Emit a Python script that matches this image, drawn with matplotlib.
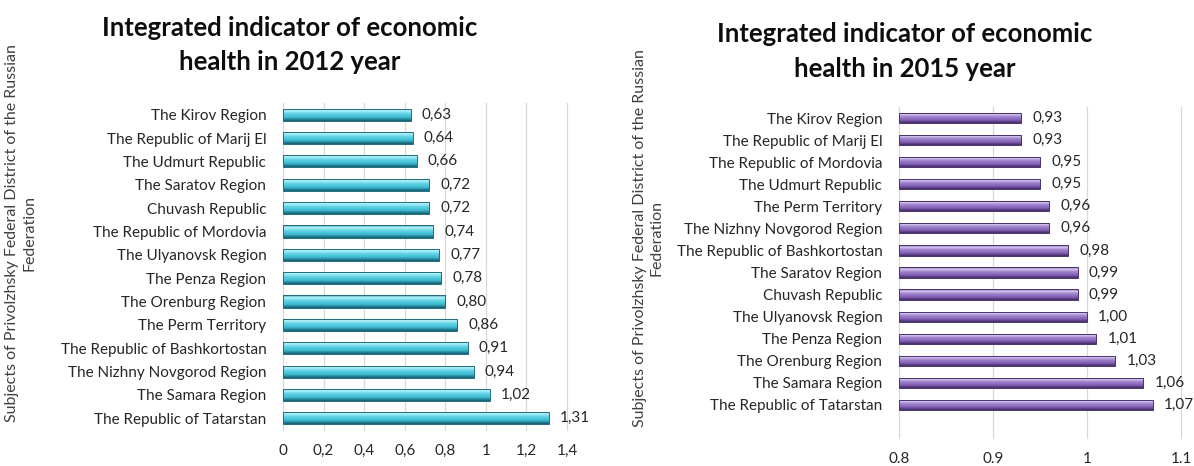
import matplotlib.pyplot as plt
import numpy as np
from matplotlib.colors import LinearSegmentedColormap

plt.rcParams['font.family'] = ['Lato', 'DejaVu Sans']

# данные 2012
regions_2012 = ["The Kirov Region", "The Republic of Marij El", "The Udmurt Republic",
                "The Saratov Region", "Chuvash Republic", "The Republic of Mordovia",
                "The Ulyanovsk Region", "The Penza Region", "The Orenburg Region",
                "The Perm Territory", "The Republic of Bashkortostan",
                "The Nizhny Novgorod Region", "The Samara Region", "The Republic of Tatarstan"]
values_2012 = [0.63, 0.64, 0.66, 0.72, 0.72, 0.74, 0.77, 0.78, 0.80, 0.86, 0.91, 0.94, 1.02, 1.31]
ticks_2012 = [0, 0.2, 0.4, 0.6, 0.8, 1.0, 1.2, 1.4]
ticklabels_2012 = ["0", "0,2", "0,4", "0,6", "0,8", "1", "1,2", "1,4"]

# данные 2015
regions_2015 = ["The Kirov Region", "The Republic of Marij El", "The Republic of Mordovia",
                "The Udmurt Republic", "The Perm Territory", "The Nizhny Novgorod Region",
                "The Republic of Bashkortostan", "The Saratov Region", "Chuvash Republic",
                "The Ulyanovsk Region", "The Penza Region", "The Orenburg Region",
                "The Samara Region", "The Republic of Tatarstan"]
values_2015 = [0.93, 0.93, 0.95, 0.95, 0.96, 0.96, 0.98, 0.99, 0.99, 1.00, 1.01, 1.03, 1.06, 1.07]
ticks_2015 = [0.8, 0.9, 1.0, 1.1]
ticklabels_2015 = ["0.8", "0.9", "1", "1.1"]

ylabel = "Subjects of Privolzhsky Federal District of the Russian\nFederation"

cyan = LinearSegmentedColormap.from_list("cyan", [
    (0.0, "#2b8da3"), (0.18, "#b8f4fb"), (0.42, "#62d4e7"),
    (0.72, "#3dbad0"), (0.92, "#1f7488"), (1.0, "#175e6e")])
purple = LinearSegmentedColormap.from_list("purple", [
    (0.0, "#6a4a96"), (0.18, "#d8c9f0"), (0.42, "#a084cd"),
    (0.72, "#8461b7"), (0.92, "#553a7c"), (1.0, "#412d5f")])

grad = np.linspace(0, 1, 64).reshape(-1, 1)

fig = plt.figure(figsize=(11.94, 4.66), dpi=100)

FS = 11


def draw(ax, names, vals, left, ticks, labels, cmap, edge, h, ylim):
    y = np.arange(len(names))
    bars = ax.barh(y, np.array(vals) - left, left=left, height=h,
                   color="none", edgecolor=edge, linewidth=0.7, zorder=3)
    for b in bars:
        x0, yb, w, hh = b.get_x(), b.get_y(), b.get_width(), b.get_height()
        im = ax.imshow(grad, cmap=cmap, aspect="auto", origin="upper",
                       extent=(x0, x0 + w, yb + hh, yb), zorder=2)
        im.set_clip_path(b)
    for yi, v in zip(y, vals):
        ax.annotate(f"{v:.2f}".replace(".", ","), (v, yi), xytext=(8, 0),
                    textcoords="offset points", va="center", ha="left",
                    fontsize=FS, color="#262626")
    ax.set_xlim(left, ticks[-1])
    ax.set_ylim(*ylim)
    ax.set_yticks(y)
    ax.set_yticklabels(names, fontsize=FS, color="#262626")
    ax.set_xticks(ticks)
    ax.set_xticklabels(labels, fontsize=FS, color="#262626")
    ax.tick_params(axis="both", length=0)
    ax.tick_params(axis="y", pad=12)
    ax.tick_params(axis="x", pad=10)
    for t in ticks:
        ax.axvline(t, color="#d9d9d9", linewidth=0.9, zorder=1, clip_on=False)
    for s in ax.spines.values():
        s.set_visible(False)


ax1 = fig.add_axes([0.2370, 0.0773, 0.2379, 0.7017])
draw(ax1, regions_2012, values_2012, 0, ticks_2012, ticklabels_2012,
     cyan, "#1f6f80", 0.52, (13.5, -0.5))

ax2 = fig.add_axes([0.7529, 0.0601, 0.2362, 0.7103])
draw(ax2, regions_2015, values_2015, 0.8, ticks_2015, ticklabels_2015,
     purple, "#4a3370", 0.46, (14.5, -0.5))

# заголовки
TS = 18.5
fig.text(0.243, 0.940, "Integrated indicator of economic", ha="center", va="center",
         fontsize=TS, fontweight="bold", color="#0d0d0d")
fig.text(0.243, 0.866, "health in 2012 year", ha="center", va="center",
         fontsize=TS, fontweight="bold", color="#0d0d0d")
fig.text(0.758, 0.928, "Integrated indicator of economic", ha="center", va="center",
         fontsize=TS, fontweight="bold", color="#0d0d0d")
fig.text(0.758, 0.852, "health in 2015 year", ha="center", va="center",
         fontsize=TS, fontweight="bold", color="#0d0d0d")

fig.text(0.0175, 0.50, ylabel, rotation=90, ha="center", va="center",
         multialignment="center", fontsize=11.5, color="#404040", linespacing=1.3)
fig.text(0.543, 0.49, ylabel, rotation=90, ha="center", va="center",
         multialignment="center", fontsize=11.5, color="#404040", linespacing=1.3)

fig.savefig("out.png", dpi=100)
